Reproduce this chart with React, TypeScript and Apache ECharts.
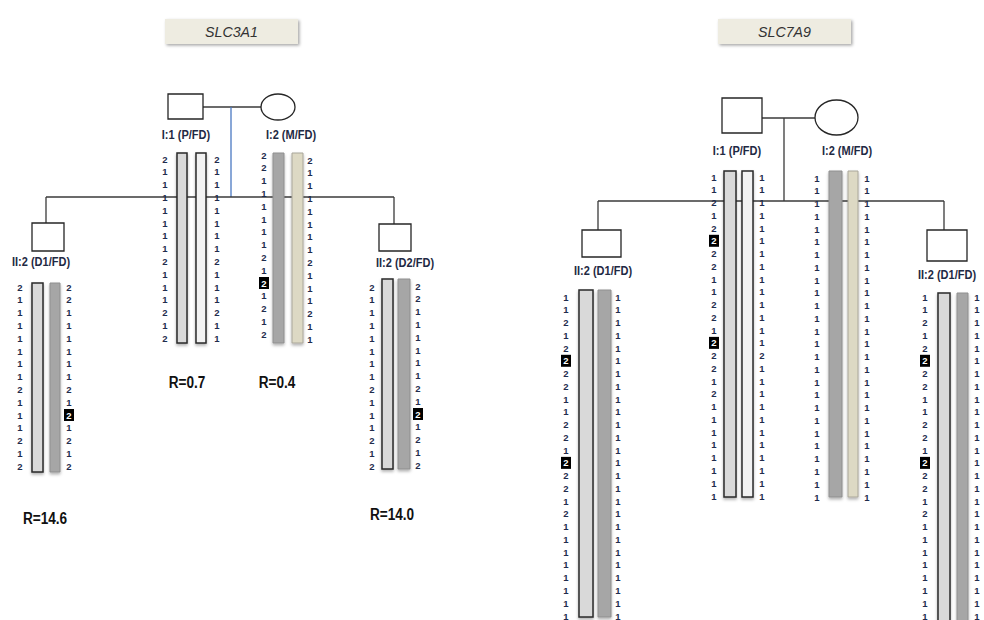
import React, { useEffect, useRef } from "react";
import * as echarts from "echarts";

// ---------- DATA ----------
const geneTitles = ["SLC3A1", "SLC7A9"];
const labels3A1 = ["I:1 (P/FD)", "I:2 (M/FD)", "II:2 (D1/FD)", "II:2 (D2/FD)"];
const labels7A9 = ["I:1 (P/FD)", "I:2 (M/FD)", "II:2 (D1/FD)", "II:2 (D1/FD)"];
const rLabels3A1 = ["R=0.7", "R=0.4", "R=14.6", "R=14.0"];

// SLC3A1 haplotypes (15 markers)
const s3_I1_a = [2, 1, 1, 1, 1, 1, 1, 1, 2, 1, 1, 1, 2, 1, 2];
const s3_I1_b = [2, 1, 1, 1, 1, 1, 1, 1, 2, 1, 1, 1, 2, 1, 1];
const s3_I2_a = [2, 2, 1, 1, 1, 1, 1, 1, 2, 1, 2, 1, 2, 1, 2];
const s3_I2_b = [2, 1, 1, 1, 1, 1, 1, 1, 2, 1, 1, 1, 2, 1, 1];
const s3_D1_a = [2, 1, 1, 1, 1, 1, 1, 1, 2, 1, 1, 1, 2, 1, 2];
const s3_D1_b = [2, 2, 1, 1, 1, 1, 1, 1, 2, 1, 2, 1, 2, 1, 2];
const s3_D2_a = [2, 1, 1, 1, 1, 1, 1, 1, 2, 1, 1, 1, 2, 1, 2];
const s3_D2_b = [2, 2, 1, 1, 1, 1, 1, 1, 2, 1, 2, 1, 2, 1, 2];
const s3_I2_a_hl = [10];
const s3_D1_b_hl = [10];
const s3_D2_b_hl = [10];

// SLC7A9 haplotypes (26 markers)
const s7_I1_a = [1, 1, 2, 1, 2, 2, 2, 2, 1, 1, 2, 2, 1, 2, 2, 2, 1, 2, 1, 1, 1, 1, 1, 1, 1, 1];
const s7_I1_b = [1, 1, 1, 1, 1, 1, 1, 1, 1, 1, 1, 1, 1, 1, 2, 1, 1, 1, 1, 1, 1, 1, 1, 1, 1, 1];
const s7_I2_a = [1, 1, 1, 1, 1, 1, 1, 1, 1, 1, 1, 1, 1, 1, 1, 1, 1, 1, 1, 1, 1, 1, 1, 1, 1, 1];
const s7_I2_b = [1, 1, 1, 1, 1, 1, 1, 1, 1, 1, 1, 1, 1, 1, 1, 1, 1, 1, 1, 1, 1, 1, 1, 1, 1, 1];
const s7_D1_a = [1, 1, 2, 1, 2, 2, 2, 2, 1, 1, 2, 2, 1, 2, 2, 2, 1, 2, 1, 1, 1, 1, 1, 1, 1, 1];
const s7_D1_b = [1, 1, 1, 1, 1, 1, 1, 1, 1, 1, 1, 1, 1, 1, 1, 1, 1, 1, 1, 1, 1, 1, 1, 1, 1, 1];
const s7_D1r_a = [1, 1, 2, 1, 2, 2, 2, 2, 1, 1, 2, 2, 1, 2, 2, 2, 1, 2, 1, 1, 1, 1, 1, 1, 1, 1];
const s7_D1r_b = [1, 1, 1, 1, 1, 1, 1, 1, 1, 1, 1, 1, 1, 1, 1, 1, 1, 1, 1, 1, 1, 1, 1, 1, 1, 1];
const s7_I1_a_hl = [5, 13];
const s7_D1_a_hl = [5, 13];
const s7_D1r_a_hl = [5, 13];

// ---------- LAYOUT (pixel space of the hidden axes) ----------
const barStyles: Record<string, any> = {
  light: { fill: "#D9D9D9", stroke: "#2a2a2a", lineWidth: 1.5 },
  white: { fill: "#F2F2F2", stroke: "#2a2a2a", lineWidth: 1.5 },
  dark: { fill: "#A6A6A6", stroke: "#8f8f8f", lineWidth: 1 },
  beige: { fill: "#DDD9C4", stroke: "#a9a69a", lineWidth: 1 },
};

type Ind = {
  a: number[]; b: number[]; hlA: number[]; hlB: number[];
  barA: [number, number]; barB: [number, number]; top: number; bottom: number;
  styleA: string; styleB: string;
  xA: number; xB: number; y0A: number; y0B: number; step: number;
};

const individuals: Ind[] = [
  // SLC3A1
  { a: s3_I1_a, b: s3_I1_b, hlA: [], hlB: [], barA: [177, 187], barB: [196, 206], top: 153, bottom: 343, styleA: "light", styleB: "white", xA: 165, xB: 217, y0A: 159, y0B: 159, step: 12.8 },
  { a: s3_I2_a, b: s3_I2_b, hlA: s3_I2_a_hl, hlB: [], barA: [273, 284], barB: [292, 303], top: 153, bottom: 343, styleA: "dark", styleB: "beige", xA: 264, xB: 310, y0A: 155, y0B: 160, step: 12.8 },
  { a: s3_D1_a, b: s3_D1_b, hlA: [], hlB: s3_D1_b_hl, barA: [32, 43], barB: [50, 60], top: 283, bottom: 472, styleA: "light", styleB: "dark", xA: 20, xB: 69, y0A: 287, y0B: 287, step: 12.8 },
  { a: s3_D2_a, b: s3_D2_b, hlA: [], hlB: s3_D2_b_hl, barA: [382, 393], barB: [398, 410], top: 279, bottom: 469, styleA: "light", styleB: "dark", xA: 372, xB: 418, y0A: 287, y0B: 286, step: 12.8 },
  // SLC7A9
  { a: s7_I1_a, b: s7_I1_b, hlA: s7_I1_a_hl, hlB: [], barA: [724, 736], barB: [742, 753], top: 171, bottom: 497, styleA: "light", styleB: "white", xA: 714, xB: 762, y0A: 177, y0B: 177, step: 12.76 },
  { a: s7_I2_a, b: s7_I2_b, hlA: [], hlB: [], barA: [829, 842], barB: [848, 858], top: 171, bottom: 497, styleA: "dark", styleB: "beige", xA: 817, xB: 867, y0A: 178, y0B: 178, step: 12.76 },
  { a: s7_D1_a, b: s7_D1_b, hlA: s7_D1_a_hl, hlB: [], barA: [579, 593], barB: [598, 611], top: 290, bottom: 617, styleA: "light", styleB: "dark", xA: 566, xB: 618, y0A: 297, y0B: 297, step: 12.76 },
  { a: s7_D1r_a, b: s7_D1r_b, hlA: s7_D1r_a_hl, hlB: [], barA: [938, 950], barB: [957, 968], top: 293, bottom: 624, styleA: "light", styleB: "dark", xA: 925, xB: 977, y0A: 297, y0B: 297, step: 12.76 },
];

const styleKeys = Object.keys(barStyles);

const barData: number[][] = [];
const alleleData: number[][] = [];
individuals.forEach((p) => {
  barData.push([p.barA[0], p.top, p.barA[1], p.bottom, styleKeys.indexOf(p.styleA)]);
  barData.push([p.barB[0], p.top, p.barB[1], p.bottom, styleKeys.indexOf(p.styleB)]);
  p.a.forEach((v, i) => alleleData.push([p.xA, p.y0A + i * p.step, v, p.hlA.includes(i) ? 1 : 0]));
  p.b.forEach((v, i) => alleleData.push([p.xB, p.y0B + i * p.step, v, p.hlB.includes(i) ? 1 : 0]));
});

const LINE = "#3a3a3a";
const LABEL_COLOR = "#1f2a44";
const labelFont = "bold 12px 'Liberation Sans', Arial, sans-serif";
const rFont = "bold 17px 'Liberation Sans', Arial, sans-serif";

function txt(x: number, y: number, text: string, font: string, fill: string, extra: any = {}, sx = 1) {
  return {
    type: "text", x, y, scaleX: sx, silent: true,
    style: { text, font, fill, align: "center", verticalAlign: "middle", textAlign: "center", textVerticalAlign: "middle", ...extra },
  };
}
function ln(x1: number, y1: number, x2: number, y2: number, stroke = LINE, lw = 1.3) {
  return { type: "line", silent: true, shape: { x1, y1, x2, y2 }, style: { stroke, lineWidth: lw } };
}
function sq(x: number, y: number, w: number, h: number) {
  return { type: "rect", silent: true, shape: { x, y, width: w, height: h }, style: { fill: "#fff", stroke: "#262626", lineWidth: 1.3 }, z: 5 };
}
function circ(cx: number, cy: number, rx: number, ry: number) {
  return { type: "ellipse", silent: true, shape: { cx, cy, rx, ry }, style: { fill: "#fff", stroke: "#262626", lineWidth: 1.3 }, z: 5 };
}
function titleBox(x: number, y: number, w: number, h: number, text: string) {
  return [
    { type: "rect", silent: true, shape: { x, y, width: w, height: h }, style: { fill: "#EEECE1", shadowBlur: 3, shadowOffsetX: 1.5, shadowOffsetY: 1.5, shadowColor: "rgba(0,0,0,0.35)" } },
    txt(x + w / 2, y + h / 2 + 0.5, text, "italic 15px 'Liberation Sans', Arial, sans-serif", "#333333", {}, 0.95),
  ];
}

const RX = 0.8;
const graphics: any[] = [
  ...titleBox(165, 19, 133, 25, geneTitles[0]),
  ...titleBox(718, 19, 133, 25, geneTitles[1]),
  // SLC3A1 pedigree
  ln(203, 107, 261, 107),
  ln(231, 107, 231, 197, "#4a78c2", 1.3),
  ln(46, 197, 394, 197),
  ln(46, 197, 46, 223),
  ln(394, 197, 394, 224),
  sq(168, 94, 35, 25),
  circ(278, 107, 17, 13),
  sq(32, 223, 32, 28),
  sq(379, 224, 32, 27),
  txt(186, 135, labels3A1[0], labelFont, LABEL_COLOR, {}, 0.92),
  txt(291, 135, labels3A1[1], labelFont, LABEL_COLOR, {}, 0.92),
  txt(41, 262, labels3A1[2], labelFont, LABEL_COLOR, {}, 0.92),
  txt(405, 263, labels3A1[3], labelFont, LABEL_COLOR, {}, 0.92),
  txt(187, 382, rLabels3A1[0], rFont, "#111", {}, RX),
  txt(277, 382, rLabels3A1[1], rFont, "#111", {}, RX),
  txt(45, 518, rLabels3A1[2], rFont, "#111", {}, RX),
  txt(392, 514, rLabels3A1[3], rFont, "#111", {}, RX),
  // SLC7A9 pedigree
  ln(762, 118, 815, 118),
  ln(784, 118, 784, 201),
  ln(598, 201, 944, 201),
  ln(598, 201, 598, 230),
  ln(944, 201, 944, 230),
  sq(722, 98, 40, 35),
  circ(836.5, 117.5, 21.5, 17.5),
  sq(582, 230, 39, 27),
  sq(927, 230, 40, 31),
  txt(737, 151, labels7A9[0], labelFont, LABEL_COLOR, {}, 0.92),
  txt(847, 151, labels7A9[1], labelFont, LABEL_COLOR, {}, 0.92),
  txt(603, 271, labels7A9[2], labelFont, LABEL_COLOR, {}, 0.92),
  txt(947, 275, labels7A9[3], labelFont, LABEL_COLOR, {}, 0.92),
];

export default function App() {
  const ref = useRef<HTMLDivElement>(null);
  useEffect(() => {
    if (!ref.current) return;
    const chart = echarts.init(ref.current, undefined, { renderer: "svg" });
    chart.setOption({
      animation: false,
      backgroundColor: "#ffffff",
      grid: { left: 0, right: 0, top: 0, bottom: 0, containLabel: false },
      xAxis: { type: "value", min: 0, max: 984, show: false },
      yAxis: { type: "value", min: 0, max: 620, inverse: true, show: false },
      graphic: graphics,
      series: [
        {
          type: "custom",
          name: "chromosomes",
          clip: false,
          z: 3,
          silent: true,
          data: barData,
          encode: { x: [0, 2], y: [1, 3] },
          renderItem: (_params: any, api: any) => {
            const p1 = api.coord([api.value(0), api.value(1)]);
            const p2 = api.coord([api.value(2), api.value(3)]);
            const st = barStyles[styleKeys[api.value(4)]];
            return {
              type: "rect",
              shape: { x: p1[0], y: p1[1], width: p2[0] - p1[0], height: p2[1] - p1[1] },
              style: { ...st, shadowBlur: 3, shadowOffsetY: 2, shadowColor: "rgba(0,0,0,0.3)" },
            };
          },
        },
        {
          type: "custom",
          name: "alleles",
          clip: false,
          z: 4,
          silent: true,
          data: alleleData,
          encode: { x: 0, y: 1 },
          renderItem: (_params: any, api: any) => {
            const p = api.coord([api.value(0), api.value(1)]);
            const v = api.value(2);
            const hl = api.value(3) === 1;
            const children: any[] = [];
            if (hl) {
              children.push({ type: "rect", shape: { x: p[0] - 5, y: p[1] - 6, width: 10, height: 12 }, style: { fill: "#000" } });
            }
            children.push({
              type: "text",
              x: p[0],
              y: p[1],
              style: {
                text: String(v),
                fill: hl ? "#ffffff" : "#1f2d4d",
                font: "bold 9.5px 'Liberation Sans', Arial, sans-serif",
                align: "center",
                verticalAlign: "middle",
              },
            });
            return { type: "group", children };
          },
        },
      ],
    });
    return () => chart.dispose();
  }, []);
  return (
    <div
      ref={ref}
      style={{ position: "fixed", left: 0, top: 0, width: 984, height: 620, background: "#fff" }}
    />
  );
}
